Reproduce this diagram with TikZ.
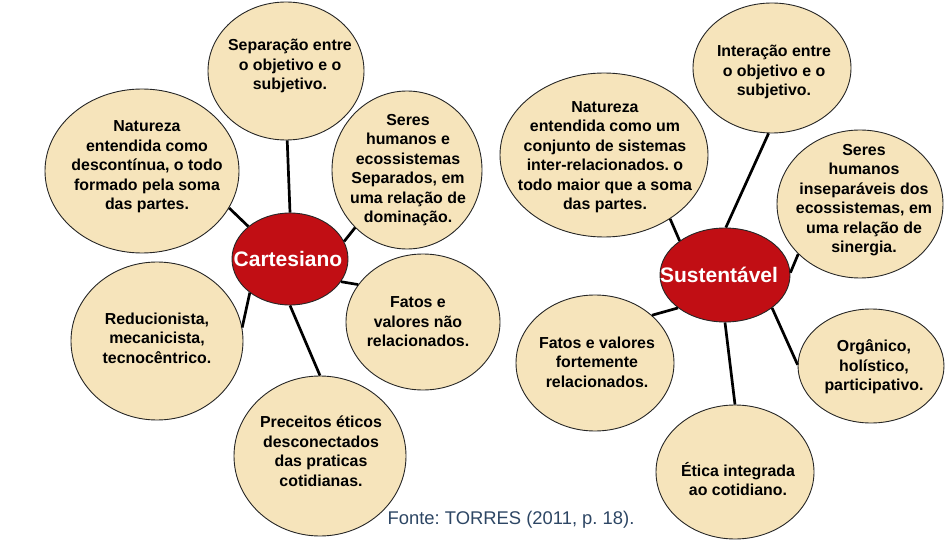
\documentclass[tikz,border=0pt]{standalone}
\usepackage{fontspec}
\setmainfont{Liberation Sans}
\usetikzlibrary{shapes.geometric}
\frenchspacing
\definecolor{beige}{RGB}{246,228,187}
\definecolor{hubred}{RGB}{193,14,20}
\definecolor{capblue}{RGB}{45,70,100}
\tikzset{
  bub/.style={ellipse, draw=black!85, line width=0.9pt, fill=beige, inner sep=0pt},
  hub/.style={ellipse, draw=black!85, line width=0.9pt, fill=hubred, inner sep=0pt},
  txt/.style={align=center, inner sep=0pt, font=\bfseries\fontsize{15.9}{19.5}\selectfont},
  hubtxt/.style={inner sep=0pt, text=white, font=\bfseries\fontsize{21}{24}\selectfont},
  link/.style={line width=2.7pt, black}
}
\begin{document}
\begin{tikzpicture}[x=1pt,y=-1pt]
\useasboundingbox (0,0) rectangle (945,540);
% Cartesiano side
\node[hub, minimum width=116pt, minimum height=92pt] (cart) at (290,259) {};
\node[hubtxt] (cartt) at (288,259) {Cartesiano};
\node[bub, minimum width=156pt, minimum height=138pt] (sep) at (286,71) {};
\node[txt] (sept) at (290,66) {Separação entre\\o objetivo e o\\subjetivo.};
\node[bub, minimum width=194pt, minimum height=164pt] (nat1) at (142,171) {};
\node[txt] (nat1t) at (147,167) {Natureza\\entendida como\\descontínua, o todo\\formado pela soma\\das partes.};
\node[bub, minimum width=150pt, minimum height=158pt] (ser1) at (407,170) {};
\node[txt] (ser1t) at (408,170) {Seres\\humanos e\\ecossistemas\\Separados, em\\uma relação de\\dominação.};
\node[bub, minimum width=172pt, minimum height=158pt] (red1) at (157,341) {};
\node[txt] (red1t) at (157,338) {Reducionista,\\mecanicista,\\tecnocêntrico.};
\node[bub, minimum width=154pt, minimum height=136pt] (fat1) at (423,322) {};
\node[txt] (fat1t) at (418,322) {Fatos e\\valores não\\relacionados.};
\node[bub, minimum width=172pt, minimum height=160pt] (pre1) at (320,456) {};
\node[txt] (pre1t) at (321,451) {Preceitos éticos\\desconectados\\das praticas\\cotidianas.};
% Sustentavel side
\node[hub, minimum width=130pt, minimum height=94pt] (sus) at (725,275) {};
\node[hubtxt] (sust) at (719,275) {Sustentável};
\node[bub, minimum width=158pt, minimum height=130pt] (int) at (772,68) {};
\node[txt] (intt) at (774,72) {Interação entre\\o objetivo e o\\subjetivo.};
\node[bub, minimum width=208pt, minimum height=164pt] (nat2) at (604,155) {};
\node[txt] (nat2t) at (605,157) {Natureza\\entendida como um\\conjunto de sistemas\\inter-relacionados. o\\todo maior que a soma\\das partes.};
\node[bub, minimum width=166pt, minimum height=148pt] (ser2) at (860,204) {};
\node[txt] (ser2t) at (864,200) {Seres\\humanos\\inseparáveis dos\\ecossistemas, em\\uma relação de\\sinergia.};
\node[bub, minimum width=158pt, minimum height=136pt] (fat2) at (595,363) {};
\node[txt] (fat2t) at (597,362) {Fatos e valores\\fortemente\\relacionados.};
\node[bub, minimum width=146pt, minimum height=114pt] (org) at (871,366) {};
\node[txt] (orgt) at (874,367) {Orgânico,\\holístico,\\participativo.};
\node[bub, minimum width=158pt, minimum height=134pt] (eti) at (735,472) {};
\node[txt] (etit) at (738,479) {Ética integrada\\ao cotidiano.};
% connectors
\draw[link] (sep.-89) -- (cart.90);
\draw[link] (nat1.-23) -- (cart.142);
\draw[link] (ser1.-132) -- (cart.18);
\draw[link] (red1.9) -- (cart.220);
\draw[link] (fat1.150) -- (cart.-24);
\draw[link] (pre1.90) -- (cart.-90);
\draw[link] (int.-93) -- (sus.89);
\draw[link] (nat2.-44) -- (sus.143);
\draw[link] (ser2.-141) -- (sus.2);
\draw[link] (fat2.40) -- (sus.-145);
\draw[link] (org.179) -- (sus.-35);
\draw[link] (eti.90) -- (sus.-90);
% caption
\node[inner sep=0pt, text=capblue, font=\fontsize{18.4}{22}\selectfont] (cap) at (511,520) {Fonte: TORRES (2011, p. 18).};
\end{tikzpicture}
\end{document}
